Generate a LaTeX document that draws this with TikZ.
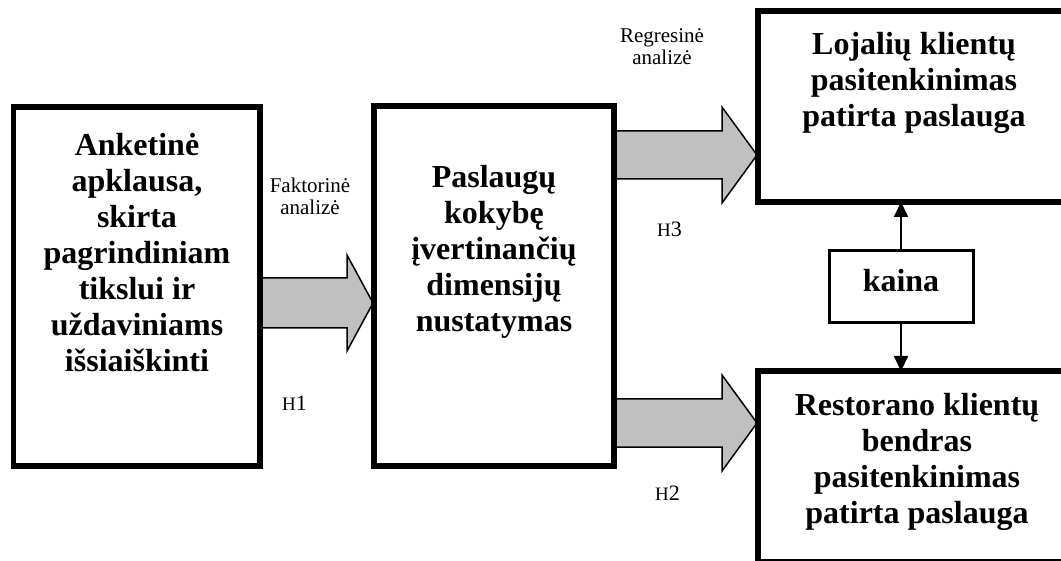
\documentclass[tikz,border=0pt]{standalone}
\usepackage{fontspec}
\setmainfont{Liberation Serif}
\usetikzlibrary{calc,arrows.meta}
\tikzset{
  bigbox/.style={draw, line width=5.5pt, inner sep=0pt, outer sep=0pt},
  smallbox/.style={draw, line width=3pt, inner sep=0pt, outer sep=0pt},
  boxtext/.style={align=center, inner sep=0pt, font=\bfseries\fontsize{32}{36}\selectfont},
  lbl/.style={align=center, inner sep=0pt, font=\fontsize{21}{22}\selectfont},
  hlbl/.style={inner sep=0pt, anchor=base west},
  fat/.style={draw, fill=gray!50!white!100, fill={rgb,255:red,192;green,192;blue,192}, line width=1.5pt, line join=miter},
  thin/.style={line width=2pt, -{Triangle[length=15pt,width=14pt]}}
}
\newcommand\hnum[1]{{\fontsize{19}{19}\selectfont H}{\fontsize{22}{22}\selectfont #1}}
\begin{document}
\begin{tikzpicture}[x=1pt,y=-1pt]
\useasboundingbox (0,0) rectangle (1061,561);
% boxes (paths only, drawn later)
\path node[minimum width=246.5pt, minimum height=359pt, inner sep=0pt, outer sep=0pt] (A) at (136.75,286.5) {};
\path node[minimum width=240pt, minimum height=360pt, inner sep=0pt, outer sep=0pt] (B) at (494,286) {};
\path node[minimum width=308pt, minimum height=191pt, inner sep=0pt, outer sep=0pt] (C) at (912,106.5) {};
\path node[minimum width=308pt, minimum height=191pt, inner sep=0pt, outer sep=0pt] (D) at (912,466.5) {};
% fat arrows
\coordinate (a1s) at (A.east |- 0,303);
\coordinate (a1e) at ($(B.west |- 0,303)+(-1,0)$);
\draw[fat] ($(a1s)+(0,-25)$) -- ($(a1e)+(-26,-25)$) -- ($(a1e)+(-26,-48)$) -- (a1e)
  -- ($(a1e)+(-26,48)$) -- ($(a1e)+(-26,25)$) -- ($(a1s)+(0,25)$) -- cycle;
\coordinate (a2s) at (B.east |- 0,155);
\coordinate (a2e) at ($(C.west |- 0,155)+(-1,0)$);
\draw[fat] ($(a2s)+(0,-24)$) -- ($(a2e)+(-35,-24)$) -- ($(a2e)+(-35,-48)$) -- (a2e)
  -- ($(a2e)+(-35,48)$) -- ($(a2e)+(-35,24)$) -- ($(a2s)+(0,24)$) -- cycle;
\coordinate (a3s) at (B.east |- 0,423);
\coordinate (a3e) at ($(D.west |- 0,423)+(-1,0)$);
\draw[fat] ($(a3s)+(0,-24)$) -- ($(a3e)+(-35,-24)$) -- ($(a3e)+(-35,-48)$) -- (a3e)
  -- ($(a3e)+(-35,48)$) -- ($(a3e)+(-35,24)$) -- ($(a3s)+(0,24)$) -- cycle;
% draw boxes
\node[bigbox, minimum width=246.5pt, minimum height=359pt] (Ab) at (A) {};
\node[bigbox, minimum width=240pt, minimum height=360pt] (Bb) at (B) {};
\node[bigbox, minimum width=308pt, minimum height=191pt] (Cb) at (C) {};
\node[bigbox, minimum width=308pt, minimum height=191pt] (Db) at (D) {};
\node[smallbox, minimum width=144pt, minimum height=72pt] (K) at (901,287) {};
% box texts
\node[boxtext] (At) at (137,252.5) {Anketinė\\apklausa,\\skirta\\pagrindiniam\\tikslui ir\\uždaviniams\\išsiaiškinti};
\node[boxtext] (Bt) at (494,251.5) {Paslaugų\\kokybę\\įvertinančių\\dimensijų\\nustatymas};
\node[boxtext] (Ct) at (914,82.5) {Lojalių klientų\\pasitenkinimas\\patirta paslauga};
\node[boxtext] (Dt) at (917,461.5) {Restorano klientų\\bendras\\pasitenkinimas\\patirta paslauga};
\node[boxtext, anchor=base] (Kt) at (901,292) {kaina};
% kaina arrows
\draw[thin] (K.north) -- (K.north |- Cb.south);
\draw[thin] (K.south) -- (K.south |- Db.north);
% labels
\node[lbl] (L1) at (310,196) {Faktorinė\\analizė};
\node[lbl] (L2) at (662,47) {Regresinė\\analizė};
\node[hlbl] (H1) at (282,410) {\hnum{1}};
\node[hlbl] (H3) at (657,237) {\hnum{3}};
\node[hlbl] (H2) at (655,500) {\hnum{2}};
\end{tikzpicture}
\end{document}
